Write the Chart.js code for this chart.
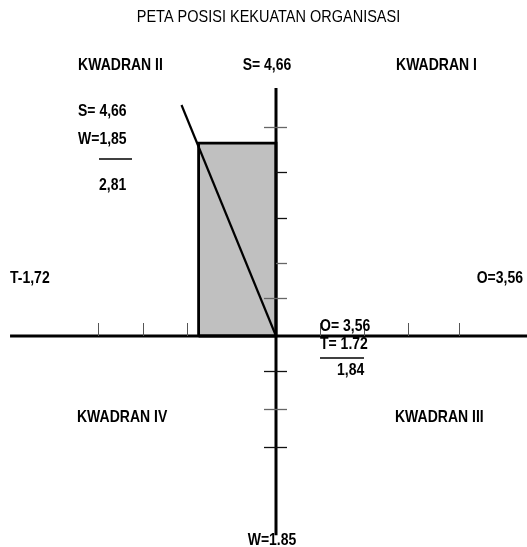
<!DOCTYPE html>
<html><head><meta charset="utf-8">
<script src="https://cdn.jsdelivr.net/npm/chart.js@4"></script>
<style>html,body{margin:0;padding:0;background:#fff;overflow:hidden}canvas{display:block}</style>
</head><body>
<canvas id="c" width="527" height="547"></canvas>
<script>
// ---- data ----
const titleText = 'PETA POSISI KEKUATAN ORGANISASI';
const quadrantNames = ['KWADRAN I', 'KWADRAN II', 'KWADRAN III', 'KWADRAN IV'];
const factorNames = ['S', 'W', 'O', 'T'];
const factorValues = [4.66, 1.85, 3.56, 1.72];
const axisLabels = ['S= 4,66', 'W=1.85', 'T-1,72', 'O=3,56'];
const yCalcLines = ['S= 4,66', 'W=1,85', '2,81'];
const xCalcLines = ['O= 3,56', 'T= 1.72', '1,84'];
// position box: x from -T to 0, y from 0 to S
const boxX = [-factorValues[3], -factorValues[3], 0, 0, -factorValues[3]];
const boxY = [0, factorValues[0], factorValues[0], 0, 0];
const boxTopX = [-factorValues[3], 0];
const boxTopY = [factorValues[0], factorValues[0]];
// diagonal line from origin
const diagX = [0, -2.10];
const diagY = [0, 5.58];
// axis extents
const hAxisX = [-5.91, 5.60];
const vAxisY = [5.99, -4.81];
// tick positions
const hTicks = [-3.96, -2.96, -1.98, 0.98, 1.96, 2.93, 4.07];
const vTicks = [5.05, 3.96, 2.85, 1.76, 0.92, -0.85, -1.76, -2.68];

const pts = (xs, ys) => xs.map((x, i) => ({x, y: ys[i]}));

const overlay = {
  id: 'overlay',
  afterDatasetsDraw(chart) {
    const {ctx, scales: {x, y}} = chart;
    const x0 = x.getPixelForValue(0), y0 = y.getPixelForValue(0);
    ctx.save();
    // horizontal ticks (above axis)
    ctx.strokeStyle = '#555'; ctx.lineWidth = 1;
    hTicks.forEach(v => {
      const px = Math.round(x.getPixelForValue(v)) + 0.5;
      ctx.beginPath(); ctx.moveTo(px, y0 - 13); ctx.lineTo(px, y0); ctx.stroke();
    });
    // vertical ticks
    const rightOnly = [false, true, true, true, false, false, false, false];
    const grey = [true, false, false, true, true, false, true, false];
    vTicks.forEach((v, i) => {
      const py = Math.round(y.getPixelForValue(v)) + 0.5;
      ctx.strokeStyle = grey[i] ? '#666' : '#111';
      ctx.lineWidth = 1.3;
      ctx.beginPath();
      ctx.moveTo(rightOnly[i] ? x0 : x0 - 12, py);
      ctx.lineTo(x0 + 11, py);
      ctx.stroke();
    });
    // texts
    ctx.fillStyle = '#000';
    ctx.textBaseline = 'middle';
    const txt = (t, px, py, align, font) => {
      ctx.save();
      ctx.font = font;
      ctx.textAlign = align;
      ctx.translate(px, py);
      ctx.scale(1, 1.15);
      ctx.fillText(t, 0, 0);
      ctx.restore();
    };
    const B = 'bold 14px "Liberation Sans", Arial, sans-serif';
    txt(titleText, 268.5, 17, 'center', '14.5px "Liberation Sans", Arial, sans-serif');
    txt(quadrantNames[1], 120.5, 66, 'center', B);
    txt(quadrantNames[0], 436.5, 66, 'center', B);
    txt(quadrantNames[3], 77, 418, 'left', B);
    txt(quadrantNames[2], 395, 418, 'left', B);
    txt(axisLabels[0], 267, 66, 'center', B);
    txt(axisLabels[1], 272, 541, 'center', B);
    txt(axisLabels[2], 10, 279, 'left', B);
    txt(axisLabels[3], 523, 279, 'right', B);
    txt(yCalcLines[0], 78, 112, 'left', B);
    txt(yCalcLines[1], 78, 140, 'left', B);
    txt(yCalcLines[2], 99, 186, 'left', B);
    txt(xCalcLines[0], 320, 327, 'left', B);
    txt(xCalcLines[1], 320, 345, 'left', B);
    txt(xCalcLines[2], 337, 371, 'left', B);
    ctx.strokeStyle = '#000'; ctx.lineWidth = 1.4;
    ctx.beginPath(); ctx.moveTo(99, 159); ctx.lineTo(132, 159); ctx.stroke();
    ctx.beginPath(); ctx.moveTo(320, 358); ctx.lineTo(364, 358); ctx.stroke();
    ctx.restore();
  }
};

new Chart(document.getElementById('c'), {
  type: 'scatter',
  data: {
    datasets: [
      { data: pts(diagX, diagY), showLine: true, borderColor: '#000', borderWidth: 2.2, pointRadius: 0, fill: false, order: 1 },
      { data: pts(hAxisX, [0, 0]), showLine: true, borderColor: '#000', borderWidth: 3, pointRadius: 0, fill: false, order: 2 },
      { data: pts([0, 0], vAxisY), showLine: true, borderColor: '#000', borderWidth: 3, pointRadius: 0, fill: false, order: 2 },
      { data: pts(boxX, boxY), showLine: true, borderColor: '#000', borderWidth: 2.8, pointRadius: 0, fill: false, order: 4, borderJoinStyle: 'miter' },
      { data: pts(boxTopX, boxTopY), showLine: true, borderColor: 'rgba(0,0,0,0)', borderWidth: 0, backgroundColor: '#c0c0c0', pointRadius: 0, fill: 'origin', order: 5 }
    ]
  },
  options: {
    responsive: false,
    animation: false,
    layout: { padding: 0 },
    plugins: { legend: { display: false }, title: { display: false }, tooltip: { enabled: false }, filler: { propagate: false } },
    scales: {
      x: { type: 'linear', display: false, min: -276 / 45, max: 251 / 45 },
      y: { type: 'linear', display: false, min: -211 / 41.4, max: 336 / 41.4 }
    }
  },
  plugins: [overlay]
});
</script>
</body></html>
